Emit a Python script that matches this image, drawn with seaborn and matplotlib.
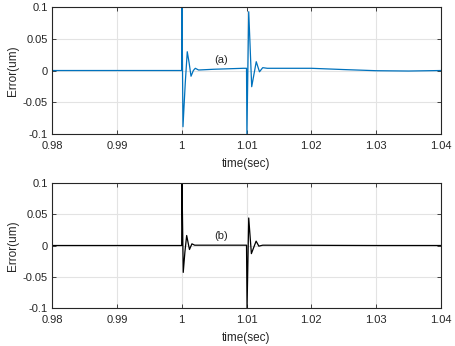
import matplotlib
matplotlib.use("Agg")
import matplotlib.pyplot as plt
import seaborn as sns
import pandas as pd

sns.set_theme(style="whitegrid")
plt.rcParams["font.family"] = ["Liberation Sans", "DejaVu Sans"]

# Tracking error, case (a)
t_a = [0.98, 1.0, 1.00005, 1.0002, 1.00055, 1.00086, 1.00115, 1.00144, 1.0018, 1.0021,
       1.0026, 1.005, 1.0095, 1.01, 1.01006, 1.01034, 1.0108, 1.0115, 1.0120, 1.0125,
       1.0132, 1.02, 1.025, 1.03, 1.035, 1.04]
e_a = [0.0, 0.0, 0.1, -0.0885, -0.02, 0.0296, 0.012, -0.009, 0.0, 0.0035,
       0.0008, 0.002, 0.0035, 0.0035, -0.1, 0.0926, -0.0255, 0.0139, -0.002, 0.0045,
       0.0035, 0.0035, 0.0015, -0.0003, -0.0008, 0.0]

# Tracking error, case (b)
t_b = [0.98, 1.0, 1.00005, 1.00024, 1.0005, 1.00077, 1.001, 1.0012, 1.00158, 1.002,
       1.005, 1.01, 1.01008, 1.01034, 1.01075, 1.01148, 1.0119, 1.0125, 1.02, 1.03, 1.04]
e_b = [0.0, 0.0, 0.1, -0.043, -0.01, 0.016, 0.004, -0.0064, 0.0027, 0.0005,
       0.0005, 0.0005, -0.1, 0.044, -0.013, 0.007, -0.001, 0.0005, 0.0003, 0.0, 0.0]

x_ticks = [0.98, 0.99, 1.0, 1.01, 1.02, 1.03, 1.04]
x_labels = ["0.98", "0.99", "1", "1.01", "1.02", "1.03", "1.04"]
y_ticks = [-0.1, -0.05, 0.0, 0.05, 0.1]
y_labels = ["-0.1", "-0.05", "0", "0.05", "0.1"]

df_a = pd.DataFrame({"time": t_a, "err": e_a})
df_b = pd.DataFrame({"time": t_b, "err": e_b})

fig = plt.figure(figsize=(4.55, 3.46), dpi=100)
ax1 = fig.add_axes([0.1143, 0.6127, 0.855, 0.367])
ax2 = fig.add_axes([0.1143, 0.1098, 0.855, 0.3613])

panels = [(ax1, df_a, "#0072BD", "(a)", 0.017), (ax2, df_b, "black", "(b)", 0.016)]
txt = "#262626"
for ax, df, col, tag, ty in panels:
    sns.lineplot(data=df, x="time", y="err", ax=ax, color=col, linewidth=0.9,
                 sort=False, estimator=None)
    ax.set_xlim(0.98, 1.04)
    ax.set_ylim(-0.1, 0.1)
    ax.set_xticks(x_ticks)
    ax.set_xticklabels(x_labels)
    ax.set_yticks(y_ticks)
    ax.set_yticklabels(y_labels)
    ax.set_facecolor("white")
    ax.grid(True, color="#e3e3e3", linewidth=0.8)
    for s in ax.spines.values():
        s.set_color("#262626")
        s.set_linewidth(0.8)
        s.set_visible(True)
    ax.tick_params(direction="in", length=3, width=0.6, colors=txt, labelsize=8,
                   top=True, right=True, bottom=True, left=True)
    ax.tick_params(axis="x", pad=5)
    ax.tick_params(axis="y", pad=3)
    ax.set_xlabel("time(sec)", fontsize=8.5, color=txt, labelpad=5)
    ax.set_ylabel("Error(um)", fontsize=8.5, color=txt, labelpad=3)
    ax.text(1.0061, ty, tag, fontsize=8, color=txt, ha="center", va="center")

fig.savefig("out.png", dpi=100, facecolor="white")
